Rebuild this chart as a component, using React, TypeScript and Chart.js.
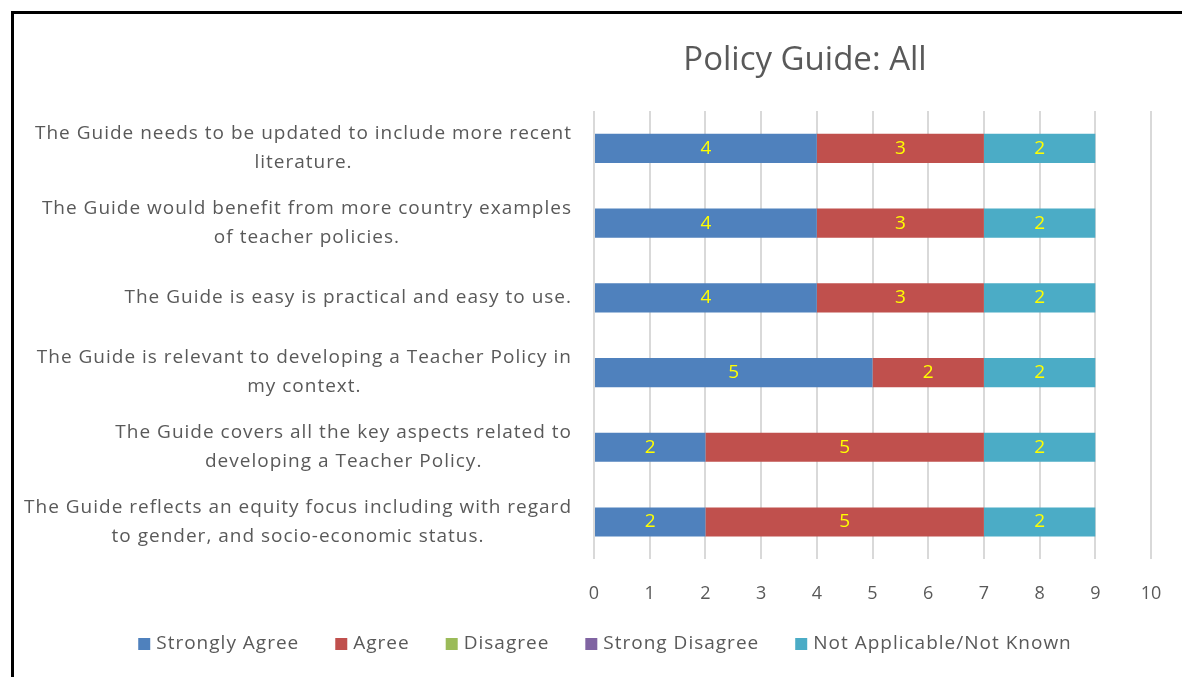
import React, { useEffect, useRef } from "react";
import { Chart, registerables } from "chart.js";

Chart.register(...registerables);

const chartTitle = "Policy Guide: All";

const categories: string[][] = [
  ["The Guide needs to be updated to include more recent", "literature."],
  ["The Guide would benefit from more country examples", "of teacher policies."],
  ["The Guide is easy is practical and easy to use."],
  ["The Guide is relevant to developing a Teacher Policy in", "my context."],
  ["The Guide covers all the key aspects related to", "developing a Teacher Policy."],
  ["The Guide reflects an equity focus including with regard", "to gender, and socio-economic status."],
];

const seriesNames = [
  "Strongly Agree",
  "Agree",
  "Disagree",
  "Strong Disagree",
  "Not Applicable/Not Known",
];

const stronglyAgree = [4, 4, 4, 5, 2, 2];
const agree = [3, 3, 3, 2, 5, 5];
const disagree = [0, 0, 0, 0, 0, 0];
const strongDisagree = [0, 0, 0, 0, 0, 0];
const notApplicable = [2, 2, 2, 2, 2, 2];

const xMin = 0;
const xMax = 10;
const xStep = 1;

const seriesColors = ["#4f81bd", "#c0504d", "#9bbb59", "#8064a2", "#4bacc6"];

const FONT = "'Open Sans', Lato, sans-serif";
const TEXT = "#595959";

const titlePlugin = {
  id: "customTitle",
  afterDraw(chart: any) {
    const ctx = chart.ctx;
    ctx.save();
    ctx.font = `33px ${FONT}`;
    ctx.fillStyle = TEXT;
    ctx.textAlign = "center";
    ctx.textBaseline = "middle";
    ctx.fillText(chartTitle, 805, 61);
    ctx.restore();
  },
};

const yLabelPlugin = {
  id: "yLabels",
  afterDraw(chart: any) {
    const ctx = chart.ctx;
    const y = chart.scales.y;
    ctx.save();
    ctx.font = `19px ${FONT}`;
    (ctx as any).letterSpacing = "1px";
    ctx.fillStyle = TEXT;
    ctx.textAlign = "center";
    ctx.textBaseline = "middle";
    const right = chart.chartArea.left - 22;
    categories.forEach((lines, i) => {
      const cy = y.getPixelForValue(i);
      const w = Math.max(...lines.map((l) => ctx.measureText(l).width));
      const cx = right - w / 2;
      const lh = 29;
      lines.forEach((l, j) => {
        ctx.fillText(l, cx, cy + (j - (lines.length - 1) / 2) * lh);
      });
    });
    ctx.restore();
  },
};

const valueLabelPlugin = {
  id: "valueLabels",
  afterDatasetsDraw(chart: any) {
    const ctx = chart.ctx;
    ctx.save();
    ctx.font = `19px ${FONT}`;
    ctx.fillStyle = "#ffff00";
    ctx.textAlign = "center";
    ctx.textBaseline = "middle";
    chart.data.datasets.forEach((ds: any, di: number) => {
      const meta = chart.getDatasetMeta(di);
      if (meta.hidden) return;
      meta.data.forEach((el: any, i: number) => {
        const v = ds.data[i];
        if (!v) return;
        const cx = (el.x + el.base) / 2;
        ctx.fillText(String(v), cx, el.y);
      });
    });
    ctx.restore();
  },
};

const legendPlugin = {
  id: "customLegend",
  afterDraw(chart: any) {
    const ctx = chart.ctx;
    ctx.save();
    ctx.font = `19px ${FONT}`;
    (ctx as any).letterSpacing = "1px";
    ctx.textBaseline = "middle";
    ctx.textAlign = "left";
    const box = 12;
    const gap = 6;
    const spacing = 36;
    const widths = seriesNames.map((n) => box + gap + ctx.measureText(n).width);
    const total = widths.reduce((a, b) => a + b, 0) + spacing * (widths.length - 1);
    let x = 605 - total / 2;
    const cy = 644;
    chart.data.datasets.forEach((ds: any, i: number) => {
      ctx.fillStyle = ds.backgroundColor;
      ctx.fillRect(x, cy - box / 2, box, box);
      ctx.fillStyle = TEXT;
      ctx.fillText(ds.label, x + box + gap, cy);
      x += widths[i] + spacing;
    });
    ctx.restore();
  },
};

export default function App() {
  const canvasRef = useRef<HTMLCanvasElement | null>(null);

  useEffect(() => {
    if (!canvasRef.current) return;
    const seriesData = [stronglyAgree, agree, disagree, strongDisagree, notApplicable];
    const chart = new Chart(canvasRef.current, {
      type: "bar",
      data: {
        labels: categories.map((c) => c.join(" ")),
        datasets: seriesNames.map((name, i) => ({
          label: name,
          data: seriesData[i],
          backgroundColor: seriesColors[i],
          borderWidth: 0,
          barPercentage: 1,
          categoryPercentage: 0.39,
        })),
      },
      options: {
        indexAxis: "y",
        responsive: false,
        animation: false,
        layout: { padding: { left: 0, right: 31, top: 111, bottom: 48 } },
        plugins: {
          legend: { display: false },
          title: { display: false },
          tooltip: { enabled: false },
        },
        scales: {
          x: {
            stacked: true,
            min: xMin,
            max: xMax,
            ticks: {
              stepSize: xStep,
              color: TEXT,
              font: { family: FONT, size: 18 },
              padding: 24,
            },
            grid: { color: "#d9d9d9", lineWidth: 2, drawTicks: false },
            border: { display: false },
            afterFit: (scale: any) => {
              scale.paddingLeft = 0;
              scale.paddingRight = 0;
            },
          },
          y: {
            stacked: true,
            ticks: { display: false },
            grid: { display: false },
            border: { display: false },
            afterFit: (scale: any) => {
              scale.width = 594;
            },
          },
        },
      },
      plugins: [titlePlugin, yLabelPlugin, valueLabelPlugin, legendPlugin],
    });
    return () => chart.destroy();
  }, []);

  return (
    <div
      style={{
        position: "absolute",
        left: 0,
        top: 0,
        width: 1182,
        height: 677,
        background: "#ffffff",
        overflow: "hidden",
      }}
    >
      <div
        style={{
          position: "absolute",
          left: 11,
          top: 11,
          width: 1400,
          height: 900,
          border: "3px solid #000000",
          boxSizing: "border-box",
        }}
      />
      <canvas
        ref={canvasRef}
        width={1182}
        height={677}
        style={{ position: "absolute", left: 0, top: 0 }}
      />
    </div>
  );
}
